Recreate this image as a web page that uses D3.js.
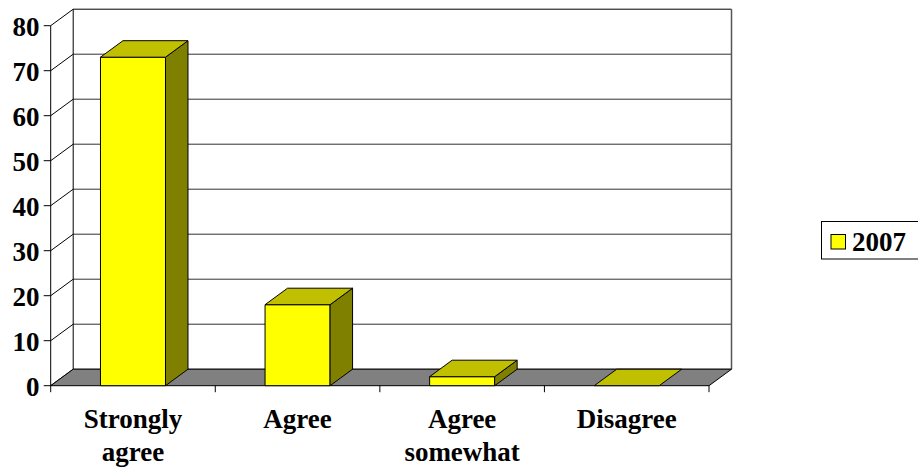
<!DOCTYPE html>
<html>
<head>
<meta charset="utf-8">
<script src="https://cdn.jsdelivr.net/npm/d3@7"></script>
<style>
  html, body { margin: 0; padding: 0; background: #fff; }
  svg { display: block; }
</style>
</head>
<body>
<svg id="chart" width="918" height="472"></svg>
<script>
// Survey responses, 2007
const categories = [["Strongly", "agree"], ["Agree"], ["Agree", "somewhat"], ["Disagree"]];
const seriesName = "2007";
const values2007 = [73, 18, 2, 0];
const yTicks = [0, 10, 20, 30, 40, 50, 60, 70, 80];

const FONT = "'Liberation Serif', Tinos, 'Times New Roman', Times, serif";

const svg = d3.select("#chart");

// Front plane of the 3-D box and the depth offset to the back wall
const x0 = 50.7, x1 = 709;
const depth = { dx: 22.5, dy: -16.5 };

const y = d3.scaleLinear().domain([0, 80]).range([385.7, 25.7]);
const xBand = d3.scaleBand()
  .domain(d3.range(categories.length))
  .range([x0, x1])
  .paddingInner(0.605)
  .paddingOuter(0.3025);
const xSlot = d3.scaleBand().domain(d3.range(categories.length)).range([x0, x1]).padding(0);

const colors = {
  front: "#FFFF00",
  top: "#C0C000",
  side: "#808000",
  floor: "#808080",
  line: "#000"
};

const poly = (pts) => pts.map(p => p[0] + "," + p[1]).join(" ");
const label = (sel) => sel.attr("font-family", FONT).attr("font-weight", "bold").attr("fill", "#000");

const bx0 = x0 + depth.dx, bx1 = x1 + depth.dx;

// Back wall
svg.append("rect")
  .attr("x", bx0).attr("y", y(80) + depth.dy)
  .attr("width", bx1 - bx0).attr("height", y(0) - y(80))
  .attr("fill", "#fff");

// Gridlines on back wall and side wall
const grid = svg.append("g").attr("stroke", "#000").attr("stroke-width", 1).attr("fill", "none");
yTicks.forEach(t => {
  grid.append("line")
    .attr("x1", bx0).attr("x2", bx1)
    .attr("y1", y(t) + depth.dy).attr("y2", y(t) + depth.dy)
    .attr("stroke", t === 80 ? "#000" : "#303030");
  grid.append("line")
    .attr("x1", x0).attr("y1", y(t))
    .attr("x2", bx0).attr("y2", y(t) + depth.dy);
});
// Back wall edges
grid.append("line").attr("x1", bx0).attr("x2", bx0)
  .attr("y1", y(80) + depth.dy).attr("y2", y(0) + depth.dy);
grid.append("line").attr("x1", bx1).attr("x2", bx1)
  .attr("y1", y(80) + depth.dy).attr("y2", y(0) + depth.dy)
  .attr("stroke", "#555").attr("stroke-width", 1.5);

// Floor
svg.append("polygon")
  .attr("points", poly([[x0, y(0)], [bx0, y(0) + depth.dy], [bx1, y(0) + depth.dy], [x1, y(0)]]))
  .attr("fill", colors.floor)
  .attr("stroke", colors.line).attr("stroke-width", 1);

// Value axis (front-left edge)
const yAxisG = svg.append("g");
yAxisG.append("line")
  .attr("x1", x0).attr("x2", x0)
  .attr("y1", y(80)).attr("y2", y(0) + 6.5)
  .attr("stroke", "#000");
yTicks.forEach(t => {
  yAxisG.append("line")
    .attr("x1", x0 - 7).attr("x2", x0)
    .attr("y1", y(t)).attr("y2", y(t))
    .attr("stroke", "#000");
  yAxisG.append("text")
    .call(label)
    .attr("x", 39.5).attr("y", y(t) + 10.5)
    .attr("text-anchor", "end")
    .attr("font-size", 27)
    .text(t);
});

// Category axis ticks along the front floor edge
const boundaries = d3.range(1, categories.length).map(i => xSlot(i)).concat([x1]);
boundaries.forEach(bx => {
  svg.append("line")
    .attr("x1", bx).attr("x2", bx)
    .attr("y1", y(0)).attr("y2", y(0) + 6.5)
    .attr("stroke", "#000");
});

// Bars as 3-D columns spanning the full depth
const bars = svg.append("g").attr("stroke", colors.line).attr("stroke-width", 1).attr("stroke-linejoin", "round");
values2007.forEach((v, i) => {
  const l = xBand(i), r = xBand(i) + xBand.bandwidth();
  const top = y(v), base = y(0);
  const g = bars.append("g");
  if (v > 0) {
    g.append("polygon")
      .attr("points", poly([[l, top], [r, top], [r, base], [l, base]]))
      .attr("fill", colors.front);
    g.append("polygon")
      .attr("points", poly([[r, top], [r + depth.dx, top + depth.dy], [r + depth.dx, base + depth.dy], [r, base]]))
      .attr("fill", colors.side);
  }
  g.append("polygon")
    .attr("points", poly([[l, top], [l + depth.dx, top + depth.dy], [r + depth.dx, top + depth.dy], [r, top]]))
    .attr("fill", colors.top);
});

// Category labels
categories.forEach((lines, i) => {
  const cx = xSlot(i) + xSlot.bandwidth() / 2;
  const t = svg.append("text")
    .call(label)
    .attr("x", cx).attr("y", 427.5)
    .attr("text-anchor", "middle")
    .attr("font-size", 27);
  lines.forEach((ln, k) => {
    t.append("tspan").attr("x", cx).attr("dy", k === 0 ? 0 : 33).text(ln);
  });
});

// Legend
const lg = svg.append("g");
lg.append("rect")
  .attr("x", 821.5).attr("y", 221.5)
  .attr("width", 110).attr("height", 37.5)
  .attr("fill", "#fff").attr("stroke", "#000").attr("stroke-width", 1);
lg.append("rect")
  .attr("x", 831).attr("y", 234.5).attr("width", 14.5).attr("height", 14.5)
  .attr("fill", colors.front).attr("stroke", "#000").attr("stroke-width", 1);
lg.append("text")
  .call(label)
  .attr("x", 852).attr("y", 250.5)
  .attr("font-size", 27)
  .text(seriesName);
</script>
</body>
</html>
